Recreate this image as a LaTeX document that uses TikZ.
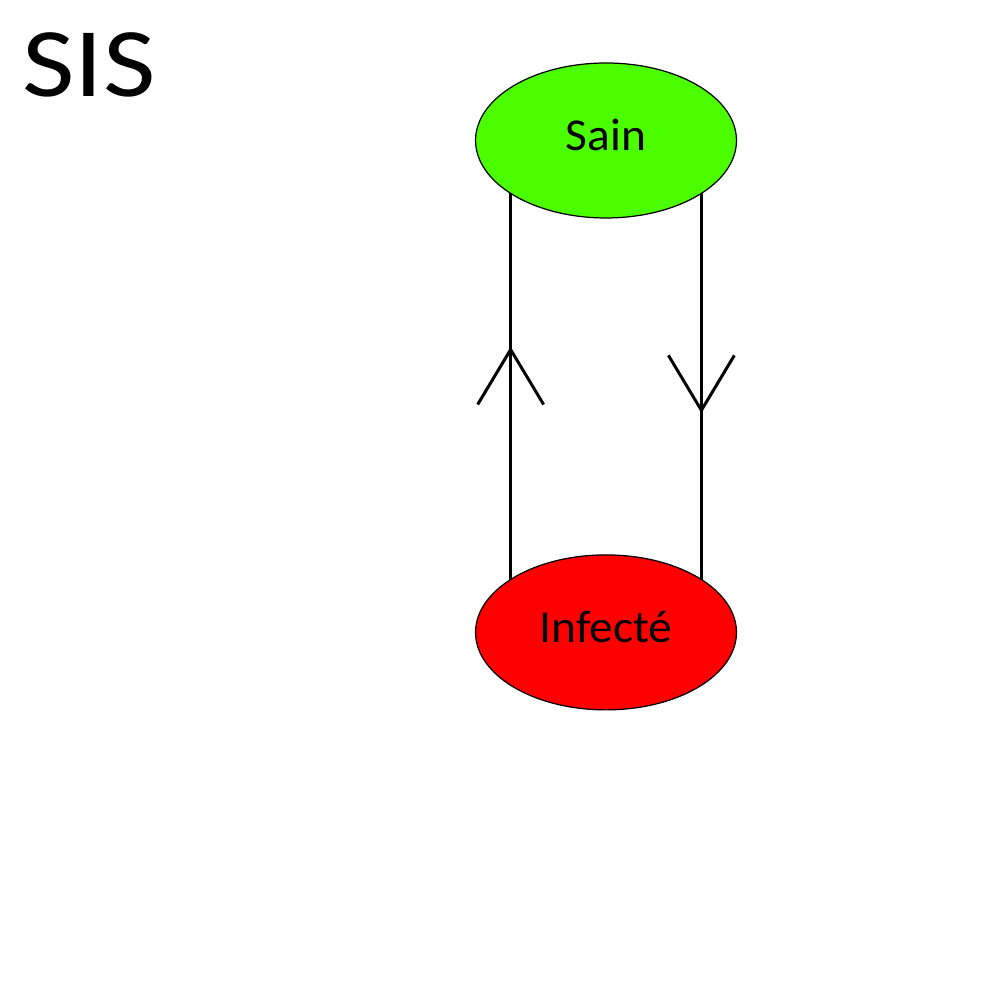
\documentclass[tikz,border=0pt]{standalone}
\usepackage{fontspec}
\setmainfont{Carlito}
\newfontfamily\titlefont[FakeStretch=1.16]{Carlito}
\newfontfamily\statefont[FakeStretch=1.04]{Carlito}
\usetikzlibrary{positioning,shapes.geometric,decorations.markings}
\definecolor{sainGreen}{RGB}{76,255,0}
\definecolor{infRed}{RGB}{255,0,0}
\begin{document}
\begin{tikzpicture}[
  x=0.02cm, y=0.02cm,
  state/.style={ellipse, draw, line width=0.7pt, inner sep=0pt, outer sep=0pt, minimum width=5.22cm, minimum height=3.1cm, font=\statefont\fontsize{26}{30}\selectfont, text height=0.6cm, text depth=0.2cm},
  flow/.style={line width=1.7pt},
  midtip/.style={postaction={decorate}, decoration={markings, mark=at position #1 with {\draw[line width=1.7pt] (-1.1cm,0.66cm) -- (0,0) -- (-1.1cm,-0.66cm);}}}
]
\useasboundingbox (0,0) rectangle (1000,1000);

\node[anchor=base west, inner sep=0pt, font=\titlefont\fontsize{56}{62}\selectfont] (title) at (22,903) {SIS};

\node[state, fill=sainGreen] (sain) at (606,859.5) {Sain};
\node[state, fill=infRed, below of=sain, node distance=9.84cm] (inf) {Infecté};

% Arrows
\draw[flow, midtip=4.6cm] (inf.151) -- (sain.209);
\draw[flow, midtip=4.34cm] (sain.-29) -- (inf.29);
\end{tikzpicture}
\end{document}
